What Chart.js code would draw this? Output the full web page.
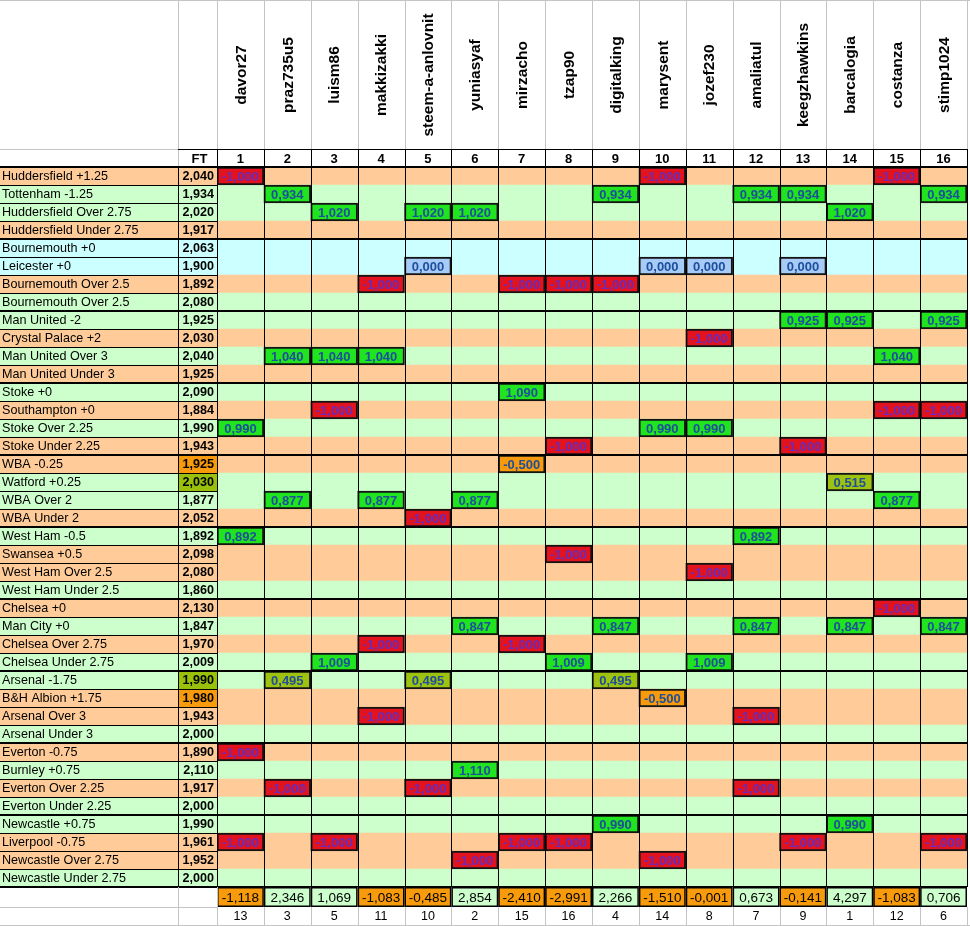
<!DOCTYPE html>
<html>
<head>
<meta charset="utf-8">
<title>Tipster sheet</title>
<script src="https://cdn.jsdelivr.net/npm/chart.js@4.4.1/dist/chart.umd.min.js"></script>
<style>
  body { margin: 0; background: #fff; }
  #wrap { width: 970px; height: 926px; }
</style>
</head>
<body>
<div id="wrap"><canvas id="sheet"></canvas></div>
<script>
// tipsters (columns)
const tipsters = ["davor27", "praz735u5", "luism86", "makkizakki", "steem-a-anlovnit", "yuniasyaf",
  "mirzacho", "tzap90", "digitalking", "marysent", "jozef230", "amaliatul", "keegzhawkins",
  "barcalogia", "costanza", "stimp1024"];

// picks (rows) with closing odds and result
const picks = ["Huddersfield +1.25", "Tottenham -1.25", "Huddersfield Over 2.75", "Huddersfield Under 2.75",
  "Bournemouth +0", "Leicester +0", "Bournemouth Over 2.5", "Bournemouth Over 2.5",
  "Man United -2", "Crystal Palace +2", "Man United Over 3", "Man United Under 3",
  "Stoke +0", "Southampton +0", "Stoke Over 2.25", "Stoke Under 2.25",
  "WBA -0.25", "Watford +0.25", "WBA Over 2", "WBA Under 2",
  "West Ham -0.5", "Swansea +0.5", "West Ham Over 2.5", "West Ham Under 2.5",
  "Chelsea +0", "Man City +0", "Chelsea Over 2.75", "Chelsea Under 2.75",
  "Arsenal -1.75", "B&H Albion +1.75", "Arsenal Over 3", "Arsenal Under 3",
  "Everton -0.75", "Burnley +0.75", "Everton Over 2.25", "Everton Under 2.25",
  "Newcastle +0.75", "Liverpool -0.75", "Newcastle Over 2.75", "Newcastle Under 2.75"];

const ftOdds = [2.040, 1.934, 2.020, 1.917, 2.063, 1.900, 1.892, 2.080, 1.925, 2.030,
  2.040, 1.925, 2.090, 1.884, 1.990, 1.943, 1.925, 2.030, 1.877, 2.052,
  1.892, 2.098, 2.080, 1.860, 2.130, 1.847, 1.970, 2.009, 1.990, 1.980,
  1.943, 2.000, 1.890, 2.110, 1.917, 2.000, 1.990, 1.961, 1.952, 2.000];

// W win, L loss, P push, HW half win, HL half loss
const results = ["L", "W", "W", "L", "P", "P", "L", "W", "W", "L", "W", "L", "W", "L", "W", "L",
  "HL", "HW", "W", "L", "W", "L", "L", "W", "L", "W", "L", "W", "HW", "HL", "L", "W",
  "L", "W", "L", "W", "W", "L", "L", "W"];

// bets: [row, tipster, profit]
const bets = [
  [1, 1, -1], [1, 10, -1], [1, 15, -1],
  [2, 2, 0.934], [2, 9, 0.934], [2, 12, 0.934], [2, 13, 0.934], [2, 16, 0.934],
  [3, 3, 1.020], [3, 5, 1.020], [3, 6, 1.020], [3, 14, 1.020],
  [6, 5, 0], [6, 10, 0], [6, 11, 0], [6, 13, 0],
  [7, 4, -1], [7, 7, -1], [7, 8, -1], [7, 9, -1],
  [9, 13, 0.925], [9, 14, 0.925], [9, 16, 0.925],
  [10, 11, -1],
  [11, 2, 1.040], [11, 3, 1.040], [11, 4, 1.040], [11, 15, 1.040],
  [13, 7, 1.090],
  [14, 3, -1], [14, 15, -1], [14, 16, -1],
  [15, 1, 0.990], [15, 10, 0.990], [15, 11, 0.990],
  [16, 8, -1], [16, 13, -1],
  [17, 7, -0.5],
  [18, 14, 0.515],
  [19, 2, 0.877], [19, 4, 0.877], [19, 6, 0.877], [19, 15, 0.877],
  [20, 5, -1],
  [21, 1, 0.892], [21, 12, 0.892],
  [22, 8, -1],
  [23, 11, -1],
  [25, 15, -1],
  [26, 6, 0.847], [26, 9, 0.847], [26, 12, 0.847], [26, 14, 0.847], [26, 16, 0.847],
  [27, 4, -1], [27, 7, -1],
  [28, 3, 1.009], [28, 8, 1.009], [28, 11, 1.009],
  [29, 2, 0.495], [29, 5, 0.495], [29, 9, 0.495],
  [30, 10, -0.5],
  [31, 4, -1], [31, 12, -1],
  [33, 1, -1],
  [34, 6, 1.110],
  [35, 2, -1], [35, 5, -1], [35, 12, -1],
  [37, 9, 0.990], [37, 14, 0.990],
  [38, 1, -1], [38, 3, -1], [38, 7, -1], [38, 8, -1], [38, 13, -1], [38, 16, -1],
  [39, 6, -1], [39, 10, -1]
];

const totals = [-1.118, 2.346, 1.069, -1.083, -0.485, 2.854, -2.410, -2.991,
  2.266, -1.510, -0.001, 0.673, -0.141, 4.297, -1.083, 0.706];
const ranks = [13, 3, 5, 11, 10, 2, 15, 16, 4, 14, 8, 7, 9, 1, 12, 6];

const ROWS_PER_MATCH = 4;
const LABEL_W = 178;
const HEAD_H = 149;
const FONT = '"Liberation Sans", Arial, sans-serif';

const rowColor = { W: "#CCFFCC", L: "#FFCC99", P: "#CCFFFF", HW: "#CCFFCC", HL: "#FFCC99" };
const ftColor = { HW: "#99C00A", HL: "#F79A0C" };

function fmt(v) {
  return v.toFixed(3).replace(".", ",");
}

function betColor(v, odds) {
  if (v <= -1) return "#E2121E";
  if (v < 0) return "#F79A0C";
  if (v === 0) return "#A6CBF6";
  if (v < odds - 1 - 0.01) return "#9DC20F";
  return "#1FE41F";
}

const datasets = [{
  label: "rows",
  data: picks.map(() => [0, 16]),
  backgroundColor: results.map(r => rowColor[r]),
  borderWidth: 0,
  grouped: false,
  barPercentage: 1,
  categoryPercentage: 1,
  order: 2
}];

tipsters.forEach((name, t) => {
  const cells = picks.map(() => null);
  const colors = picks.map(() => "transparent");
  bets.filter(b => b[1] === t + 1).forEach(([r, , v]) => {
    cells[r - 1] = [t, t + 1];
    colors[r - 1] = betColor(v, ftOdds[r - 1]);
  });
  datasets.push({
    label: name,
    data: cells,
    backgroundColor: colors,
    borderColor: "#141414",
    borderWidth: 2,
    borderSkipped: false,
    grouped: false,
    barPercentage: 1,
    categoryPercentage: 1,
    order: 1
  });
});

function hline(ctx, x1, x2, yy, w, color) {
  ctx.strokeStyle = color;
  ctx.lineWidth = w;
  ctx.beginPath();
  ctx.moveTo(x1, yy);
  ctx.lineTo(x2, yy);
  ctx.stroke();
}

function vline(ctx, xx, y1, y2, w, color) {
  ctx.strokeStyle = color;
  ctx.lineWidth = w;
  ctx.beginPath();
  ctx.moveTo(xx, y1);
  ctx.lineTo(xx, y2);
  ctx.stroke();
}

const sheetPlugin = {
  id: "sheet",
  beforeDraw(chart) {
    const { ctx, scales: { x, y } } = chart;
    const rh = y.getPixelForValue(1) - y.getPixelForValue(0);
    const ftRight = x.getPixelForValue(0);
    ctx.save();
    ctx.fillStyle = "#fff";
    ctx.fillRect(0, 0, chart.width, chart.height);
    picks.forEach((p, i) => {
      const top = y.getPixelForValue(i) - rh / 2;
      ctx.fillStyle = rowColor[results[i]];
      ctx.fillRect(0, top, LABEL_W, rh);
      ctx.fillStyle = ftColor[results[i]] || rowColor[results[i]];
      ctx.fillRect(LABEL_W, top, ftRight - LABEL_W, rh);
    });
    ctx.restore();
  },
  afterDatasetsDraw(chart) {
    const { ctx, chartArea: area, scales: { x, y } } = chart;
    const rh = y.getPixelForValue(1) - y.getPixelForValue(0);
    const ftRight = x.getPixelForValue(0);
    const totTop = area.bottom;
    const totBot = area.bottom + 20;
    const rankBot = chart.height - 1;
    const grey = "#C4C4C4";
    ctx.save();

    // header grid
    hline(ctx, 0, chart.width, 0.5, 1, grey);
    vline(ctx, LABEL_W + 0.5, 0, area.top, 1, grey);
    vline(ctx, Math.round(ftRight) + 0.5, 0, HEAD_H, 1, grey);
    for (let c = 1; c <= 16; c++) {
      vline(ctx, Math.round(x.getPixelForValue(c)) + 0.5, 0, HEAD_H, 1, grey);
    }
    hline(ctx, 0, LABEL_W, HEAD_H + 0.5, 1, grey);

    // tipster names
    ctx.fillStyle = "#000";
    ctx.font = "bold 15.5px " + FONT;
    ctx.textAlign = "center";
    ctx.textBaseline = "middle";
    tipsters.forEach((name, t) => {
      ctx.save();
      ctx.translate(x.getPixelForValue(t + 0.5) + 1, 75);
      ctx.rotate(-Math.PI / 2);
      ctx.fillText(name, 0, 0);
      ctx.restore();
    });

    // number row
    hline(ctx, LABEL_W, area.right, HEAD_H + 0.5, 1, "#000");
    vline(ctx, Math.round(ftRight) + 0.5, HEAD_H, area.top, 1, "#000");
    for (let c = 1; c <= 16; c++) {
      vline(ctx, Math.round(x.getPixelForValue(c)) + 0.5, HEAD_H, area.top, 1, "#000");
    }
    ctx.font = "bold 13px " + FONT;
    ctx.fillText("FT", (LABEL_W + ftRight) / 2 + 2, (HEAD_H + area.top) / 2 + 1);
    tipsters.forEach((name, t) => {
      ctx.fillText(String(t + 1), x.getPixelForValue(t + 0.5), (HEAD_H + area.top) / 2 + 1);
    });

    // row lines in label + FT columns
    for (let i = 1; i < picks.length; i++) {
      const yy = Math.round(y.getPixelForValue(i) - rh / 2);
      if (i % ROWS_PER_MATCH === 0) {
        hline(ctx, 0, area.right, yy, 2, "#000");
      } else {
        hline(ctx, 0, ftRight, yy + 0.5, 1, "#000");
      }
    }
    hline(ctx, 0, area.right, area.top, 2, "#000");
    hline(ctx, 0, area.right, area.bottom, 2, "#000");

    // column lines
    vline(ctx, LABEL_W + 0.5, area.top, area.bottom, 1, "#000");
    vline(ctx, Math.round(ftRight) + 0.5, area.top, area.bottom, 1, "#000");
    for (let c = 1; c <= 16; c++) {
      vline(ctx, Math.round(x.getPixelForValue(c)) + 0.5, area.top, area.bottom, 1, "#000");
    }

    // row labels and odds
    ctx.textBaseline = "middle";
    picks.forEach((p, i) => {
      const yc = y.getPixelForValue(i) + 1;
      ctx.fillStyle = "#000";
      ctx.textAlign = "left";
      ctx.font = "12.6px " + FONT;
      ctx.fillText(p, 2, yc);
      ctx.textAlign = "right";
      ctx.font = "bold 12.6px " + FONT;
      ctx.fillText(fmt(ftOdds[i]), ftRight - 3, yc);
    });

    // bet values
    ctx.textAlign = "center";
    ctx.font = "bold 13px " + FONT;
    bets.forEach(([r, t, v]) => {
      ctx.fillStyle = v <= -1 ? "#6A2BB8" : "#1E4E9C";
      ctx.fillText(fmt(v), x.getPixelForValue(t - 0.5), y.getPixelForValue(r - 1) + 1);
    });

    // totals row
    totals.forEach((v, t) => {
      const x1 = x.getPixelForValue(t);
      const x2 = x.getPixelForValue(t + 1);
      ctx.fillStyle = v < 0 ? "#F79A0C" : "#CCFFCC";
      ctx.fillRect(x1, totTop, x2 - x1, totBot - totTop);
      ctx.strokeStyle = "#000";
      ctx.lineWidth = 1.5;
      ctx.strokeRect(x1 + 0.75, totTop + 0.75, x2 - x1 - 1.5, totBot - totTop - 1.5);
      ctx.fillStyle = "#000";
      ctx.font = "13.5px " + FONT;
      ctx.fillText(fmt(v), (x1 + x2) / 2, (totTop + totBot) / 2 + 1);
    });
    vline(ctx, LABEL_W + 0.5, totTop, rankBot, 1, grey);
    vline(ctx, Math.round(ftRight) + 0.5, totTop, rankBot, 1, grey);
    hline(ctx, 0, ftRight, totBot + 0.5, 1, grey);

    // ranks row
    ranks.forEach((rk, t) => {
      vline(ctx, Math.round(x.getPixelForValue(t + 1)) + 0.5, totBot, rankBot, 1, grey);
      ctx.fillStyle = "#000";
      ctx.font = "12.5px " + FONT;
      ctx.fillText(String(rk), x.getPixelForValue(t + 0.5), (totBot + rankBot) / 2 + 1);
    });
    hline(ctx, 0, chart.width, rankBot + 0.5, 1, grey);

    ctx.restore();
  }
};

new Chart(document.getElementById("sheet"), {
  type: "bar",
  data: { labels: picks, datasets: datasets },
  options: {
    indexAxis: "y",
    responsive: true,
    maintainAspectRatio: false,
    animation: false,
    layout: { padding: { top: 167, bottom: 39, left: 217, right: 3 } },
    plugins: {
      legend: { display: false },
      tooltip: { enabled: false }
    },
    scales: {
      x: { type: "linear", min: 0, max: 16, display: false },
      y: { type: "category", display: false, offset: true }
    }
  },
  plugins: [sheetPlugin]
});
</script>
</body>
</html>
